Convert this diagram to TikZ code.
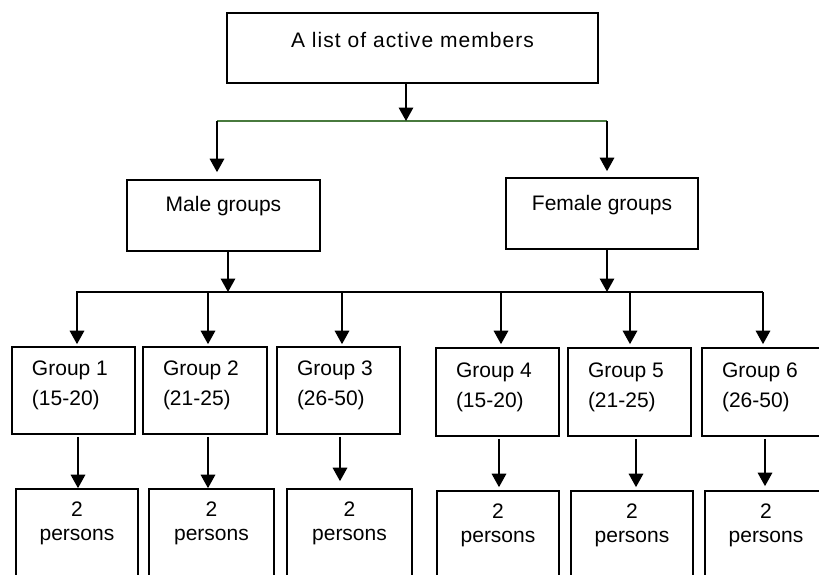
\documentclass[tikz,border=0pt]{standalone}
\usepackage{fontspec}
\setmainfont{Liberation Sans}
\usetikzlibrary{arrows.meta}
\definecolor{lgreen}{RGB}{72,122,62}
\newcommand\cbx[5]{\parbox[c][#2][t]{#1}{\fontsize{21}{#4}\selectfont\vspace*{#3}\centering #5\par}}
\newcommand\lbx[5]{\parbox[c][#2][t]{#1}{\fontsize{21}{#4}\selectfont\vspace*{#3}\leftskip=20pt\noindent #5\par}}
\begin{document}
\begin{tikzpicture}[x=1pt,y=-1pt,
  box/.style={draw, line width=1.7pt, inner sep=0pt},
  arr/.style={line width=1.7pt, -{Triangle[length=13.5pt,width=14.5pt]}},
  ln/.style={line width=1.7pt}]
\useasboundingbox (0,0) rectangle (819,574);
\clip (0,0) rectangle (819,574);
% top level
\node[box] (top) at (412.5,48) {\cbx{371pt}{70pt}{19pt}{30}{\addfontfeature{LetterSpace=5}A list of active members}};
\node[box] (male) at (223.5,215.5) {\cbx{193pt}{71pt}{16pt}{30}{Male groups}};
\node[box] (female) at (602,213.5) {\cbx{192pt}{71pt}{17pt}{30}{Female groups}};
% groups
\node[box] (g1) at (73.5,390.5) {\lbx{123pt}{87pt}{14pt}{30}{Group 1\\(15-20)}};
\node[box] (g2) at (205,390.5) {\lbx{124pt}{87pt}{14pt}{30}{Group 2\\(21-25)}};
\node[box] (g3) at (338.5,390.5) {\lbx{123pt}{87pt}{14pt}{30}{Group 3\\(26-50)}};
\node[box] (g4) at (497.5,392) {\lbx{123pt}{88pt}{15pt}{30}{Group 4\\(15-20)}};
\node[box] (g5) at (629.5,392) {\lbx{123pt}{88pt}{15pt}{30}{Group 5\\(21-25)}};
\node[box] (g6) at (763.5,392) {\lbx{123pt}{88pt}{15pt}{30}{Group 6\\(26-50)}};
% persons
\node[box] (p1) at (77,549) {\cbx{122pt}{120pt}{13pt}{24}{2\\persons}};
\node[box] (p2) at (211.5,549) {\cbx{125pt}{120pt}{13pt}{24}{2\\persons}};
\node[box] (p3) at (349.5,549) {\cbx{125pt}{120pt}{13pt}{24}{2\\persons}};
\node[box] (p4) at (498,551) {\cbx{122pt}{120pt}{13pt}{24}{2\\persons}};
\node[box] (p5) at (632,551) {\cbx{122pt}{120pt}{13pt}{24}{2\\persons}};
\node[box] (p6) at (766,551) {\cbx{122pt}{120pt}{13pt}{24}{2\\persons}};
% junction coordinates
\coordinate (bl) at (217,121);
\coordinate (bm) at (406,121);
\coordinate (br) at (607,121);
\coordinate (ml) at (76,292);
\coordinate (mm) at (228,292);
\coordinate (fm) at (607,292);
\coordinate (mr) at (763,292);
% top connectors
\draw[line width=1.7pt, lgreen] (bl) -- (br);
\draw[arr] (top.south -| bm) -- (bm);
\draw[arr, shorten >=7pt] (bl) -- (bl |- male.north);
\draw[arr, shorten >=6pt] (br) -- (br |- female.north);
% middle connectors
\draw[arr] (male.south -| mm) -- (mm);
\draw[arr] (female.south -| fm) -- (fm);
\draw[ln] (ml) -- (mr);
\draw[arr, shorten >=2pt] ([xshift=3.5pt]g1.north |- ml) -- ([xshift=3.5pt]g1.north);
\draw[arr, shorten >=2pt] ([xshift=3pt]g2.north |- ml) -- ([xshift=3pt]g2.north);
\draw[arr, shorten >=2pt] ([xshift=3.5pt]g3.north |- ml) -- ([xshift=3.5pt]g3.north);
\draw[arr, shorten >=3pt] ([xshift=3.5pt]g4.north |- ml) -- ([xshift=3.5pt]g4.north);
\draw[arr, shorten >=3pt] ([xshift=0.5pt]g5.north |- ml) -- ([xshift=0.5pt]g5.north);
\draw[arr, shorten >=3pt] ([xshift=-0.5pt]g6.north |- ml) -- ([xshift=-0.5pt]g6.north);
% bottom connectors
\draw[arr, shorten <=2pt] ([xshift=1pt]p1.north |- g1.south) -- ([xshift=1pt]p1.north);
\draw[arr, shorten <=2pt] ([xshift=-3.5pt]p2.north |- g2.south) -- ([xshift=-3.5pt]p2.north);
\draw[arr, shorten <=2pt, shorten >=7pt] ([xshift=-9.5pt]p3.north |- g3.south) -- ([xshift=-9.5pt]p3.north);
\draw[arr, shorten <=2pt, shorten >=3pt] ([xshift=1pt]p4.north |- g4.south) -- ([xshift=1pt]p4.north);
\draw[arr, shorten <=2pt, shorten >=3pt] ([xshift=4pt]p5.north |- g5.south) -- ([xshift=4pt]p5.north);
\draw[arr, shorten <=2pt, shorten >=4pt] ([xshift=-1pt]p6.north |- g6.south) -- ([xshift=-1pt]p6.north);
\end{tikzpicture}
\end{document}
